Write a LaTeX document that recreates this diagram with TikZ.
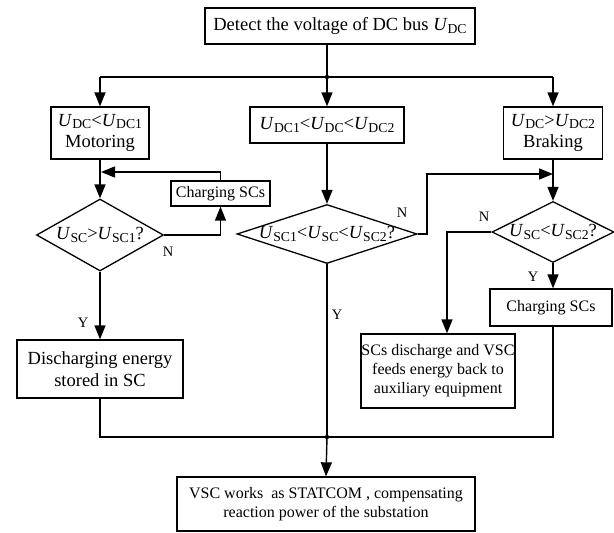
\documentclass[tikz,border=0pt]{standalone}
\usepackage{fontspec}
\setmainfont{Liberation Serif}
\usepackage{tikz}
\usetikzlibrary{shapes.geometric}
\usetikzlibrary{arrows.meta}

\newcommand{\volt}[1]{\textit{U}\raisebox{-0.3ex}{\scalebox{0.74}{#1}}}

\tikzset{
  blk/.style={draw,line width=1.3pt,inner sep=0pt,align=center,font=\fontsize{16}{19}\selectfont},
  big/.style={font=\fontsize{18.5}{21.5}\selectfont},
  dia/.style={draw,diamond,line width=1.3pt,inner sep=0pt,font=\fontsize{18.5}{20}\selectfont},
  arr/.style={-{Triangle[length=14pt,width=11pt]}},
  yn/.style={font=\fontsize{14.5}{15}\selectfont}
}

\begin{document}
\begin{tikzpicture}[x=1pt,y=-1pt,line width=1.4pt]
    \useasboundingbox (0,0) rectangle (614,533);
    % boxes
    \node[blk,big,minimum width=270pt,minimum height=36pt] (top) at (340,26)
      {Detect the voltage of DC bus \volt{DC}};
    \node[blk,big,minimum width=98pt,minimum height=52pt] (lbox) at (100,133)
      {\volt{DC}<\volt{DC1}\\Motoring};
    \node[blk,big,minimum width=154pt,minimum height=36pt] (mbox) at (327,125)
      {\volt{DC1}<\volt{DC}<\volt{DC2}};
    \node[blk,big,minimum width=99pt,minimum height=52pt] (rbox) at (553,133)
      {\volt{DC}>\volt{DC2}\\Braking};
    % decisions
    \node[dia,minimum width=127pt,minimum height=72pt] (ldia) at (100,235)
      {\makebox[0pt]{\volt{SC}>\volt{SC1}?}};
    \node[dia,minimum width=180pt,minimum height=59pt] (mdia) at (327,234)
      {\makebox[0pt]{\volt{SC1}<\volt{SC}<\volt{SC2}?}};
    \node[dia,minimum width=122pt,minimum height=61pt] (rdia) at (553,232)
      {\makebox[0pt]{\volt{SC}<\volt{SC2}?}};
    % actions
    \node[blk,minimum width=99pt,minimum height=25pt] (lchg) at (220.5,193.5) {Charging SCs};
    \node[blk,minimum width=122pt,minimum height=37pt] (rchg) at (551,307.5) {Charging SCs};
    \node[blk,big,minimum width=166pt,minimum height=58pt] (ldis) at (100,369)
      {Discharging energy\\stored in SC};
    \node[blk,minimum width=154pt,minimum height=74pt] (rdis) at (438,371)
      {SCs discharge and VSC\\feeds energy back to\\auxiliary equipment};
    \node[blk,minimum width=298pt,minimum height=54pt] (fin) at (326,504)
      {VSC works\ \ as STATCOM , compensating\\reaction power of the substation};
    % labels
    \node[yn] (nl) at (168,252) {N};
    \node[yn] (nm) at (402,213) {N};
    \node[yn] (nr) at (484,217) {N};
    \node[yn] (yl) at (83,323) {Y};
    \node[yn] (ym) at (337,315) {Y};
    \node[yn] (yr) at (533,277) {Y};
    % junctions
    \coordinate (j1) at (327,77);
    \coordinate (j2) at (327,437);
    \coordinate (lret) at (101,172);
    \coordinate (mturn) at (427,174);
    \coordinate (rret) at (553,174);
    % connectors
    \draw (top.south -| j1) -- (j1);
    \draw (lbox.north |- j1) -- (rbox.north |- j1);
    \draw[arr] (lbox.north |- j1) -- (lbox.north);
    \draw[arr] (j1) -- (mbox.north);
    \draw[arr] (rbox.north |- j1) -- (rbox.north);
    \draw[arr] (lbox.south) -- (ldia.north);
    \draw[arr] (ldia.east) -| (lchg.south);
    \draw[arr] (lchg.north) |- (lret);
    \draw[arr] (ldia.south) -- (ldis.north);
    \draw (ldis.south) |- (j2);
    \draw[arr] (mbox.south) -- (mdia.north);
    \draw (mdia.south) -- (j2);
    \draw[arr] (mdia.east) -| (mturn) -- (rret);
    \draw[arr] (rbox.south) -- (rdia.north);
    \draw[arr] (rdia.west) -| ([xshift=9pt]rdis.north);
    \draw[arr] (rdia.south) -- (rdia.south |- rchg.north);
    \draw (rdia.south |- rchg.south) |- (j2);
    \draw[arr] (j2) -- (fin.north);
    \fill (j1) circle (2.2pt);
    \fill (j2) circle (2.2pt);
\end{tikzpicture}
\end{document}
